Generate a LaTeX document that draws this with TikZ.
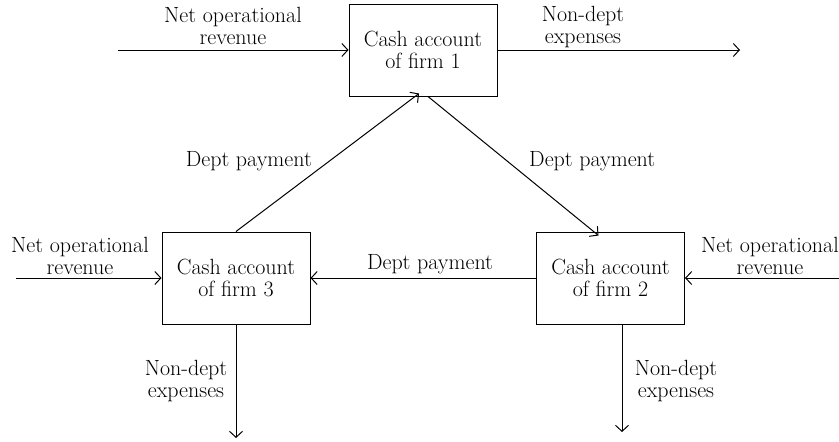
\documentclass[tikz,border=0pt]{standalone}
\usetikzlibrary{arrows.meta}
\begin{document}
\begin{tikzpicture}[x=1pt,y=-1pt,
  every node/.style={font=\fontsize{22}{22}\selectfont},
  acct/.style={draw,line width=1pt,minimum width=148pt,minimum height=92pt,align=center,inner sep=0pt},
  lbl/.style={align=center,inner sep=0pt},
  flow/.style={line width=1pt,-{Straight Barb[length=6pt,width=13pt,line width=1pt]}}]
\useasboundingbox (0,0) rectangle (839,442);
\node[acct] (b1) at (423,50) {Cash account\\of firm 1};
\node[acct] (b3) at (236,278) {Cash account\\of firm 3};
\node[acct] (b2) at (610.5,278) {Cash account\\of firm 2};
\coordinate (in1) at (118,50);
\coordinate (out1) at (740,50);
\coordinate (in3) at (16,278);
\coordinate (in2) at (839,278);
\coordinate (out3) at (236,438);
\coordinate (out2) at (622,432);
\draw[flow] (in1) -- (b1.west);
\draw[flow] (b1.east) -- (out1);
\draw[flow] (in3) -- (b3.west);
\draw[flow] (in2) -- (b2.east);
\draw[flow] (b3.south) -- (out3);
\draw[flow] (b2.south -| out2) -- (out2);
\draw[flow] (b3.north) -- ([xshift=-4pt,yshift=3pt]b1.south);
\draw[flow] ([xshift=5pt]b1.south) -- ([xshift=-12pt,yshift=-4pt]b2.north);
\draw[flow] (b2.west) -- (b3.east);
\node[lbl] (l1) at (233,26) {Net operational\\revenue};
\node[lbl] (l2) at (583,27) {Non-dept\\expenses};
\node[lbl] (l3) at (80,256) {Net operational\\revenue};
\node[lbl] (l4) at (770,256) {Net operational\\revenue};
\node[lbl] (l5) at (186,381) {Non-dept\\expenses};
\node[lbl] (l6) at (676,381) {Non-dept\\expenses};
\node[lbl,anchor=east] (d1) at (312,161) {Dept payment};
\node[lbl,anchor=west] (d2) at (529,161) {Dept payment};
\node[lbl] (d3) at (430,264) {Dept payment};
\end{tikzpicture}
\end{document}
